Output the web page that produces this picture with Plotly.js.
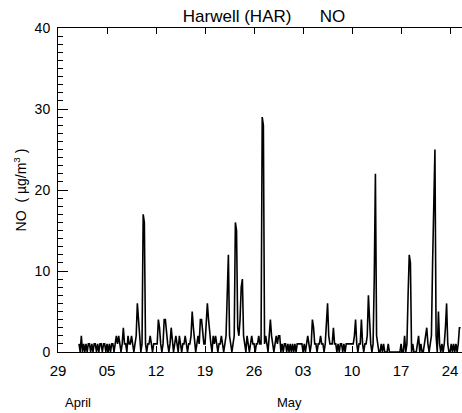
<!DOCTYPE html>
<html><head><meta charset="utf-8">
<script src="https://cdn.plot.ly/plotly-3.0.1.min.js"></script>
<style>html,body{margin:0;padding:0;background:#fff}</style>
</head><body><div id="chart" style="width:462px;height:413px"></div>
<script>
// NO concentration (ug/m3), 4-hourly values, one array per week starting 29 March
const week0 = [null,null,null,null,null,null,null,null,null,null,null,null,null,null,null,null,null,null,
  1,0,2,0,1,0,1,0, 1,1,0,1,0,1,1,0, 1,0,1,1,0,1,1,0];
const week1 = [1,0,1,0,1,1,0,1, 2,1,2,1,0,1,3,1, 1,0,2,1,1,2,1,0, 1,2,6,4,1,0,1,17, 16,1,0,1,1,2,1,0, 1,1];
const week2 = [1,1,4,3,1,0,1,4, 4,2,1,0,1,3,1,0, 1,2,1,0,2,1,0,1, 1,2,1,0,1,1,2,5, 3,1,0,1,2,1,4,4, 2,1];
const week3 = [1,3,6,4,2,1,0,2, 1,2,1,0,1,1,2,1, 0,1,2,7,12,2,1,0, 1,2,16,15,3,2,4,8, 9,2,1,0,2,1,0,1, 2,1];
const week4 = [1,0,1,1,2,1,1,29, 28,1,2,1,0,2,4,2, 1,0,1,2,1,2,2,0, 1,0,1,1,0,1,0,1, 0,1,0,1,0,1,1,1, 1,1];
const week5 = [0,1,0,1,2,1,0,1, 4,3,1,1,0,1,1,2, 1,1,0,1,3,6,2,1, 1,1,3,1,1,0,1,0, 1,1,0,1,0,1,1,1, 1,1];
const week6 = [1,1,2,4,1,0,1,1, 4,1,0,1,1,2,7,3, 1,0,1,9,22,2,1,0, 0,1,0,1,0,0,0,1, 0,0,0,0,0,0,0,0, 0,0];
const week7 = [1,0,0,2,0,1,7,12, 11,0,1,0,0,0,1,2, 0,1,0,0,1,2,3,1, 0,1,2,11,19,25,2,0, 5,1,0,1,0,1,3,6, 1,0];
const week8 = [0,1,0,1,0,1,0,1,3,3];

const tickDays = [0,7,14,21,28,35,42,49,56];
const tickLabels = ['29','05','12','19','26','03','10','17','24'];
const monthLabels = ['April','May'];
const monthDays = [2.86, 33];
const yTicks = [0,10,20,30,40];

const noValues = [].concat(week0, week1, week2, week3, week4, week5, week6, week7, week8);
const hoursPerStep = 4;
const days = noValues.map((_, i) => i * hoursPerStep / 24);

const FONT = 'Liberation Sans, Arial, sans-serif';

const trace = {
  type: 'scatter', mode: 'lines',
  x: days, y: noValues,
  line: {color: 'black', width: 1.6},
  connectgaps: false,
  hoverinfo: 'skip'
};

const layout = {
  width: 462, height: 413,
  margin: {l: 58, r: 0, t: 28, b: 61},
  paper_bgcolor: 'white', plot_bgcolor: 'white',
  font: {family: FONT, color: 'black', size: 14},
  showlegend: false,
  title: {
    text: 'Harwell (HAR)\u00a0\u00a0\u00a0\u00a0\u00a0\u00a0NO',
    font: {family: FONT, size: 17, color: 'black'},
    xref: 'paper', x: 0.51, xanchor: 'center',
    yref: 'container', y: 1 - 16/413, yanchor: 'middle'
  },
  xaxis: {
    range: [0, 57.7],
    tickmode: 'array', tickvals: tickDays, ticktext: tickLabels,
    ticks: 'inside', ticklen: 6, tickwidth: 1, tickcolor: 'black',
    showline: true, linecolor: 'black', linewidth: 1, mirror: 'ticks',
    showgrid: false, zeroline: false,
    tickfont: {family: FONT, size: 15, color: 'black'},
    ticklabelstandoff: 5,
    fixedrange: true
  },
  yaxis: {
    range: [0, 40],
    tickmode: 'array', tickvals: yTicks,
    ticks: 'inside', ticklen: 10, tickwidth: 1, tickcolor: 'black',
    minor: {dtick: 1, ticks: 'inside', ticklen: 5, tickcolor: 'black', tickwidth: 1, showgrid: false},
    showline: true, linecolor: 'black', linewidth: 1, mirror: false,
    showgrid: false, zeroline: false,
    tickfont: {family: FONT, size: 14, color: 'black'},
    ticklabelstandoff: 4,
    title: {text: 'NO\u00a0\u00a0(\u00a0\u00b5g/m<sup>3</sup>\u00a0)', font: {family: FONT, size: 14, color: 'black'}, standoff: 4},
    fixedrange: true
  },
  annotations: monthLabels.map((m, i) => ({
    text: m, xref: 'x', x: monthDays[i], yref: 'paper', y: (352 - 402) / 324,
    xanchor: 'center', yanchor: 'middle', showarrow: false,
    font: {family: FONT, size: 13, color: 'black'}
  }))
};

Plotly.newPlot('chart', [trace], layout, {staticPlot: true, displayModeBar: false});
</script>
</body></html>
